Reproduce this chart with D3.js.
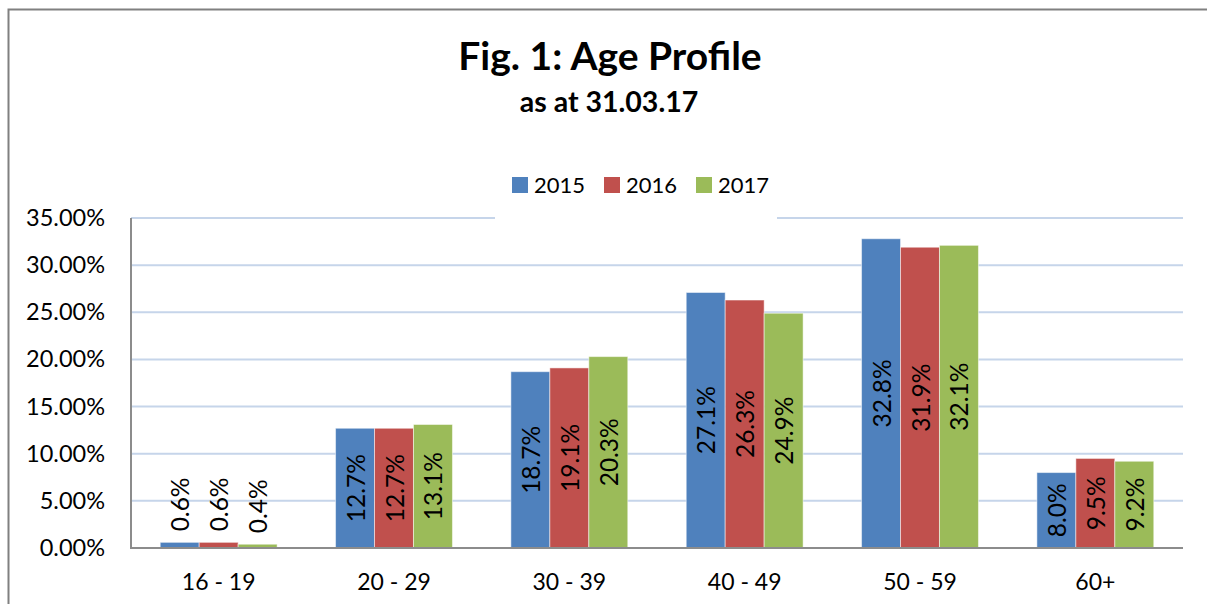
<!DOCTYPE html>
<html>
<head>
<meta charset="utf-8">
<script src="https://cdn.jsdelivr.net/npm/d3@7"></script>
<style>
  body { margin: 0; background: #fff; }
  svg { font-family: Lato, "Open Sans", sans-serif; }
</style>
</head>
<body>
<div id="chart"></div>
<script>
const categories = ["16 - 19", "20 - 29", "30 - 39", "40 - 49", "50 - 59", "60+"];
const seriesNames = ["2015", "2016", "2017"];
const values2015 = [0.6, 12.7, 18.7, 27.1, 32.8, 8.0];
const values2016 = [0.6, 12.7, 19.1, 26.3, 31.9, 9.5];
const values2017 = [0.4, 13.1, 20.3, 24.9, 32.1, 9.2];
const yTicks = [0, 5, 10, 15, 20, 25, 30, 35];
const colors = ["#4f81bd", "#c0504d", "#9bbb59"];

const allValues = [values2015, values2016, values2017];

const width = 1207, height = 604;
const margin = { top: 218, right: 24, bottom: 56, left: 131 };

const svg = d3.select("#chart")
  .append("svg")
  .attr("width", width)
  .attr("height", height);

// chart frame (left and top edges visible)
svg.append("path")
  .attr("d", `M8.5,${height} V9.5 H${width}`)
  .attr("fill", "none")
  .attr("stroke", "#808080")
  .attr("stroke-width", 2);

const x = d3.scaleBand()
  .domain(categories)
  .range([margin.left, width - margin.right])
  .padding(0);

const step = x.bandwidth();
const xs = d3.scaleBand()
  .domain(seriesNames)
  .range([step / 6, step * 5 / 6])
  .padding(0);

const y = d3.scaleLinear()
  .domain([0, 35])
  .range([height - margin.bottom, margin.top]);

// gridlines
svg.append("g")
  .selectAll("line")
  .data(yTicks.filter(d => d > 0))
  .join("line")
  .attr("x1", margin.left)
  .attr("x2", width - margin.right)
  .attr("y1", d => y(d))
  .attr("y2", d => y(d))
  .attr("stroke", "#c6d5ea")
  .attr("stroke-width", 2);

// y axis labels
svg.append("g")
  .attr("transform", `translate(${margin.left},0)`)
  .call(d3.axisLeft(y).tickValues(yTicks).tickSize(0).tickPadding(26)
    .tickFormat(d => d.toFixed(2) + "%"))
  .call(g => g.select(".domain").remove())
  .selectAll("text")
  .attr("font-size", 23.5)
  .attr("font-family", "Lato, sans-serif")
  .attr("fill", "#000");

// bars
const groups = svg.append("g")
  .selectAll("g")
  .data(categories)
  .join("g")
  .attr("transform", d => `translate(${x(d)},0)`);

const barData = (c, i) => seriesNames.map((s, k) => ({ series: s, k, value: allValues[k][i] }));

groups.selectAll("rect")
  .data(barData)
  .join("rect")
  .attr("x", d => xs(d.series))
  .attr("y", d => y(d.value))
  .attr("width", xs.bandwidth())
  .attr("height", d => y(0) - y(d.value))
  .attr("fill", d => colors[d.k])
  .attr("stroke", "rgba(255,255,255,0.5)")
  .attr("stroke-width", 1);

// data labels, rotated: centred in the bar, or above it when the bar is too short
const fits = d => y(0) - y(d.value) > 75;
groups.selectAll("text")
  .data(barData)
  .join("text")
  .attr("transform", d => {
    const cx = xs(d.series) + xs.bandwidth() / 2;
    const cy = fits(d) ? (y(0) + y(d.value)) / 2 : y(d.value) - 11;
    return `translate(${cx + 9.5},${cy}) rotate(-90)`;
  })
  .attr("text-anchor", d => fits(d) ? "middle" : "start")
  .attr("font-size", 24.5)
  .attr("fill", "#000")
  .text(d => d.value.toFixed(1) + "%");

// axis lines
svg.append("path")
  .attr("d", `M${margin.left},${margin.top} V${y(0)} H${width - margin.right}`)
  .attr("fill", "none")
  .attr("stroke", "#8c8c8c")
  .attr("stroke-width", 2);

// x axis labels
svg.append("g")
  .attr("transform", `translate(0,${y(0)})`)
  .call(d3.axisBottom(x).tickSize(0).tickPadding(26))
  .call(g => g.select(".domain").remove())
  .selectAll("text")
  .attr("font-size", 23)
  .attr("font-family", "Lato, sans-serif")
  .attr("fill", "#000");

// legend with white backing over the top gridline
const legend = svg.append("g");
legend.append("rect")
  .attr("x", 495).attr("y", 160)
  .attr("width", 282).attr("height", 60)
  .attr("fill", "#fff");
const legendX = [512, 604, 696];
seriesNames.forEach((s, k) => {
  legend.append("rect")
    .attr("x", legendX[k]).attr("y", 177)
    .attr("width", 16).attr("height", 16)
    .attr("fill", colors[k]);
  legend.append("text")
    .attr("x", legendX[k] + 22).attr("y", 193)
    .attr("font-size", 22)
    .attr("fill", "#000")
    .text(s);
});

// titles
svg.append("text")
  .attr("x", 610).attr("y", 70)
  .attr("text-anchor", "middle")
  .attr("font-size", 39)
  .attr("font-weight", "bold")
  .text("Fig. 1: Age Profile");

svg.append("text")
  .attr("x", 609).attr("y", 112)
  .attr("text-anchor", "middle")
  .attr("font-size", 28.5)
  .attr("font-weight", "bold")
  .text("as at 31.03.17");
</script>
</body>
</html>
